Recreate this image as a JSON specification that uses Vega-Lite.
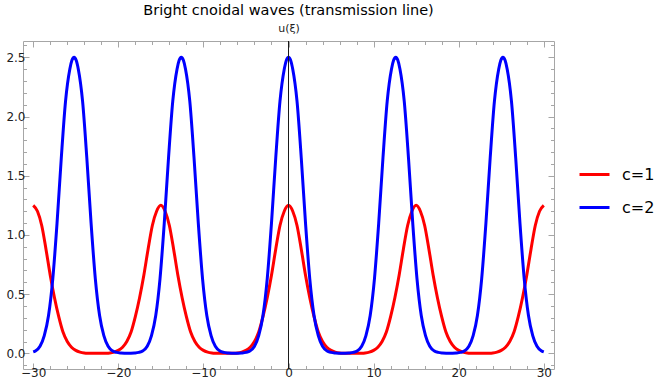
{
  "$schema": "https://vega.github.io/schema/vega-lite/v6.json",
  "width": 531,
  "height": 328,
  "autosize": {"type": "none"},
  "padding": {"left": 23, "top": 41, "right": 100, "bottom": 18},
  "config": {"view": {"stroke": "#a6a6a6", "strokeWidth": 1}, "font": "DejaVu Sans"},
  "title": {"text": "Bright cnoidal waves (transmission line)", "font": "DejaVu Sans", "fontSize": 14.5, "fontWeight": "normal", "color": "#000000", "anchor": "middle", "offset": 4},
  "data": {"values": [
    {"c":"c=1","x":-30,"u":1.25},{"c":"c=1","x":-29.5,"u":1.2},{"c":"c=1","x":-29,"u":1.08},{"c":"c=1","x":-28.5,"u":0.88},{"c":"c=1","x":-28,"u":0.66},{"c":"c=1","x":-27.5,"u":0.47},{"c":"c=1","x":-27,"u":0.31},{"c":"c=1","x":-26.5,"u":0.18},{"c":"c=1","x":-26,"u":0.1},{"c":"c=1","x":-25.5,"u":0.052},{"c":"c=1","x":-25,"u":0.025},{"c":"c=1","x":-24.5,"u":0.011},{"c":"c=1","x":-24,"u":0.004},{"c":"c=1","x":-23.5,"u":0.0015},{"c":"c=1","x":-23,"u":0.0005},{"c":"c=1","x":-22.5,"u":0.0002},{"c":"c=1","x":-22,"u":0.0005},{"c":"c=1","x":-21.5,"u":0.0015},{"c":"c=1","x":-21,"u":0.004},{"c":"c=1","x":-20.5,"u":0.011},{"c":"c=1","x":-20,"u":0.025},{"c":"c=1","x":-19.5,"u":0.052},{"c":"c=1","x":-19,"u":0.1},{"c":"c=1","x":-18.5,"u":0.18},{"c":"c=1","x":-18,"u":0.31},{"c":"c=1","x":-17.5,"u":0.47},{"c":"c=1","x":-17,"u":0.66},{"c":"c=1","x":-16.5,"u":0.88},{"c":"c=1","x":-16,"u":1.08},{"c":"c=1","x":-15.5,"u":1.2},
    {"c":"c=1","x":-15,"u":1.25},{"c":"c=1","x":-14.5,"u":1.2},{"c":"c=1","x":-14,"u":1.08},{"c":"c=1","x":-13.5,"u":0.88},{"c":"c=1","x":-13,"u":0.66},{"c":"c=1","x":-12.5,"u":0.47},{"c":"c=1","x":-12,"u":0.31},{"c":"c=1","x":-11.5,"u":0.18},{"c":"c=1","x":-11,"u":0.1},{"c":"c=1","x":-10.5,"u":0.052},{"c":"c=1","x":-10,"u":0.025},{"c":"c=1","x":-9.5,"u":0.011},{"c":"c=1","x":-9,"u":0.004},{"c":"c=1","x":-8.5,"u":0.0015},{"c":"c=1","x":-8,"u":0.0005},{"c":"c=1","x":-7.5,"u":0.0002},{"c":"c=1","x":-7,"u":0.0005},{"c":"c=1","x":-6.5,"u":0.0015},{"c":"c=1","x":-6,"u":0.004},{"c":"c=1","x":-5.5,"u":0.011},{"c":"c=1","x":-5,"u":0.025},{"c":"c=1","x":-4.5,"u":0.052},{"c":"c=1","x":-4,"u":0.1},{"c":"c=1","x":-3.5,"u":0.18},{"c":"c=1","x":-3,"u":0.31},{"c":"c=1","x":-2.5,"u":0.47},{"c":"c=1","x":-2,"u":0.66},{"c":"c=1","x":-1.5,"u":0.88},{"c":"c=1","x":-1,"u":1.08},{"c":"c=1","x":-0.5,"u":1.2},
    {"c":"c=1","x":0,"u":1.25},{"c":"c=1","x":0.5,"u":1.2},{"c":"c=1","x":1,"u":1.08},{"c":"c=1","x":1.5,"u":0.88},{"c":"c=1","x":2,"u":0.66},{"c":"c=1","x":2.5,"u":0.47},{"c":"c=1","x":3,"u":0.31},{"c":"c=1","x":3.5,"u":0.18},{"c":"c=1","x":4,"u":0.1},{"c":"c=1","x":4.5,"u":0.052},{"c":"c=1","x":5,"u":0.025},{"c":"c=1","x":5.5,"u":0.011},{"c":"c=1","x":6,"u":0.004},{"c":"c=1","x":6.5,"u":0.0015},{"c":"c=1","x":7,"u":0.0005},{"c":"c=1","x":7.5,"u":0.0002},{"c":"c=1","x":8,"u":0.0005},{"c":"c=1","x":8.5,"u":0.0015},{"c":"c=1","x":9,"u":0.004},{"c":"c=1","x":9.5,"u":0.011},{"c":"c=1","x":10,"u":0.025},{"c":"c=1","x":10.5,"u":0.052},{"c":"c=1","x":11,"u":0.1},{"c":"c=1","x":11.5,"u":0.18},{"c":"c=1","x":12,"u":0.31},{"c":"c=1","x":12.5,"u":0.47},{"c":"c=1","x":13,"u":0.66},{"c":"c=1","x":13.5,"u":0.88},{"c":"c=1","x":14,"u":1.08},{"c":"c=1","x":14.5,"u":1.2},
    {"c":"c=1","x":15,"u":1.25},{"c":"c=1","x":15.5,"u":1.2},{"c":"c=1","x":16,"u":1.08},{"c":"c=1","x":16.5,"u":0.88},{"c":"c=1","x":17,"u":0.66},{"c":"c=1","x":17.5,"u":0.47},{"c":"c=1","x":18,"u":0.31},{"c":"c=1","x":18.5,"u":0.18},{"c":"c=1","x":19,"u":0.1},{"c":"c=1","x":19.5,"u":0.052},{"c":"c=1","x":20,"u":0.025},{"c":"c=1","x":20.5,"u":0.011},{"c":"c=1","x":21,"u":0.004},{"c":"c=1","x":21.5,"u":0.0015},{"c":"c=1","x":22,"u":0.0005},{"c":"c=1","x":22.5,"u":0.0002},{"c":"c=1","x":23,"u":0.0005},{"c":"c=1","x":23.5,"u":0.0015},{"c":"c=1","x":24,"u":0.004},{"c":"c=1","x":24.5,"u":0.011},{"c":"c=1","x":25,"u":0.025},{"c":"c=1","x":25.5,"u":0.052},{"c":"c=1","x":26,"u":0.1},{"c":"c=1","x":26.5,"u":0.18},{"c":"c=1","x":27,"u":0.31},{"c":"c=1","x":27.5,"u":0.47},{"c":"c=1","x":28,"u":0.66},{"c":"c=1","x":28.5,"u":0.88},{"c":"c=1","x":29,"u":1.08},{"c":"c=1","x":29.5,"u":1.2},{"c":"c=1","x":30,"u":1.25},
    {"c":"c=2","x":-30,"u":0.012},{"c":"c=2","x":-29.7,"u":0.022},{"c":"c=2","x":-29.2,"u":0.06},{"c":"c=2","x":-28.7,"u":0.15},{"c":"c=2","x":-28.2,"u":0.32},{"c":"c=2","x":-27.7,"u":0.63},{"c":"c=2","x":-27.2,"u":1.1},{"c":"c=2","x":-26.7,"u":1.65},{"c":"c=2","x":-26.2,"u":2.13},{"c":"c=2","x":-25.7,"u":2.4},{"c":"c=2","x":-25.45,"u":2.475},{"c":"c=2","x":-25.2,"u":2.5},{"c":"c=2","x":-24.95,"u":2.475},{"c":"c=2","x":-24.7,"u":2.4},{"c":"c=2","x":-24.2,"u":2.13},{"c":"c=2","x":-23.7,"u":1.65},{"c":"c=2","x":-23.2,"u":1.1},{"c":"c=2","x":-22.7,"u":0.63},{"c":"c=2","x":-22.2,"u":0.32},{"c":"c=2","x":-21.7,"u":0.15},{"c":"c=2","x":-21.2,"u":0.06},{"c":"c=2","x":-20.7,"u":0.022},{"c":"c=2","x":-20.2,"u":0.008},{"c":"c=2","x":-19.7,"u":0.003},{"c":"c=2","x":-19.2,"u":0.001},{"c":"c=2","x":-18.9,"u":0.0003},{"c":"c=2","x":-18.6,"u":0.001},{"c":"c=2","x":-18.1,"u":0.003},{"c":"c=2","x":-17.6,"u":0.008},{"c":"c=2","x":-17.1,"u":0.022},{"c":"c=2","x":-16.6,"u":0.06},{"c":"c=2","x":-16.1,"u":0.15},{"c":"c=2","x":-15.6,"u":0.32},{"c":"c=2","x":-15.1,"u":0.63},{"c":"c=2","x":-14.6,"u":1.1},{"c":"c=2","x":-14.1,"u":1.65},{"c":"c=2","x":-13.6,"u":2.13},{"c":"c=2","x":-13.1,"u":2.4},{"c":"c=2","x":-12.85,"u":2.475},
    {"c":"c=2","x":-12.6,"u":2.5},{"c":"c=2","x":-12.35,"u":2.475},{"c":"c=2","x":-12.1,"u":2.4},{"c":"c=2","x":-11.6,"u":2.13},{"c":"c=2","x":-11.1,"u":1.65},{"c":"c=2","x":-10.6,"u":1.1},{"c":"c=2","x":-10.1,"u":0.63},{"c":"c=2","x":-9.6,"u":0.32},{"c":"c=2","x":-9.1,"u":0.15},{"c":"c=2","x":-8.6,"u":0.06},{"c":"c=2","x":-8.1,"u":0.022},{"c":"c=2","x":-7.6,"u":0.008},{"c":"c=2","x":-7.1,"u":0.003},{"c":"c=2","x":-6.6,"u":0.001},{"c":"c=2","x":-6.3,"u":0.0003},{"c":"c=2","x":-6,"u":0.001},{"c":"c=2","x":-5.5,"u":0.003},{"c":"c=2","x":-5,"u":0.008},{"c":"c=2","x":-4.5,"u":0.022},{"c":"c=2","x":-4,"u":0.06},{"c":"c=2","x":-3.5,"u":0.15},{"c":"c=2","x":-3,"u":0.32},{"c":"c=2","x":-2.5,"u":0.63},{"c":"c=2","x":-2,"u":1.1},{"c":"c=2","x":-1.5,"u":1.65},{"c":"c=2","x":-1,"u":2.13},{"c":"c=2","x":-0.5,"u":2.4},{"c":"c=2","x":-0.25,"u":2.475},
    {"c":"c=2","x":0,"u":2.5},{"c":"c=2","x":0.25,"u":2.475},{"c":"c=2","x":0.5,"u":2.4},{"c":"c=2","x":1,"u":2.13},{"c":"c=2","x":1.5,"u":1.65},{"c":"c=2","x":2,"u":1.1},{"c":"c=2","x":2.5,"u":0.63},{"c":"c=2","x":3,"u":0.32},{"c":"c=2","x":3.5,"u":0.15},{"c":"c=2","x":4,"u":0.06},{"c":"c=2","x":4.5,"u":0.022},{"c":"c=2","x":5,"u":0.008},{"c":"c=2","x":5.5,"u":0.003},{"c":"c=2","x":6,"u":0.001},{"c":"c=2","x":6.3,"u":0.0003},{"c":"c=2","x":6.6,"u":0.001},{"c":"c=2","x":7.1,"u":0.003},{"c":"c=2","x":7.6,"u":0.008},{"c":"c=2","x":8.1,"u":0.022},{"c":"c=2","x":8.6,"u":0.06},{"c":"c=2","x":9.1,"u":0.15},{"c":"c=2","x":9.6,"u":0.32},{"c":"c=2","x":10.1,"u":0.63},{"c":"c=2","x":10.6,"u":1.1},{"c":"c=2","x":11.1,"u":1.65},{"c":"c=2","x":11.6,"u":2.13},{"c":"c=2","x":12.1,"u":2.4},{"c":"c=2","x":12.35,"u":2.475},
    {"c":"c=2","x":12.6,"u":2.5},{"c":"c=2","x":12.85,"u":2.475},{"c":"c=2","x":13.1,"u":2.4},{"c":"c=2","x":13.6,"u":2.13},{"c":"c=2","x":14.1,"u":1.65},{"c":"c=2","x":14.6,"u":1.1},{"c":"c=2","x":15.1,"u":0.63},{"c":"c=2","x":15.6,"u":0.32},{"c":"c=2","x":16.1,"u":0.15},{"c":"c=2","x":16.6,"u":0.06},{"c":"c=2","x":17.1,"u":0.022},{"c":"c=2","x":17.6,"u":0.008},{"c":"c=2","x":18.1,"u":0.003},{"c":"c=2","x":18.6,"u":0.001},{"c":"c=2","x":18.9,"u":0.0003},{"c":"c=2","x":19.2,"u":0.001},{"c":"c=2","x":19.7,"u":0.003},{"c":"c=2","x":20.2,"u":0.008},{"c":"c=2","x":20.7,"u":0.022},{"c":"c=2","x":21.2,"u":0.06},{"c":"c=2","x":21.7,"u":0.15},{"c":"c=2","x":22.2,"u":0.32},{"c":"c=2","x":22.7,"u":0.63},{"c":"c=2","x":23.2,"u":1.1},{"c":"c=2","x":23.7,"u":1.65},{"c":"c=2","x":24.2,"u":2.13},{"c":"c=2","x":24.7,"u":2.4},{"c":"c=2","x":24.95,"u":2.475},
    {"c":"c=2","x":25.2,"u":2.5},{"c":"c=2","x":25.45,"u":2.475},{"c":"c=2","x":25.7,"u":2.4},{"c":"c=2","x":26.2,"u":2.13},{"c":"c=2","x":26.7,"u":1.65},{"c":"c=2","x":27.2,"u":1.1},{"c":"c=2","x":27.7,"u":0.63},{"c":"c=2","x":28.2,"u":0.32},{"c":"c=2","x":28.7,"u":0.15},{"c":"c=2","x":29.2,"u":0.06},{"c":"c=2","x":29.7,"u":0.022},{"c":"c=2","x":30,"u":0.012}
  ]},
  "layer": [
    {
      "mark": {"type": "line", "strokeWidth": 3, "interpolate": "monotone", "clip": true},
      "encoding": {
        "x": {"field": "x", "type": "quantitative",
          "scale": {"domain": [-31.2, 31.2], "nice": false, "zero": false},
          "axis": {"orient": "bottom", "title": null, "domain": false, "grid": false,
            "values": [-30,-28,-26,-24,-22,-20,-18,-16,-14,-12,-10,-8,-6,-4,-2,0,2,4,6,8,10,12,14,16,18,20,22,24,26,28,30],
            "labelExpr": "datum.value % 10 === 0 ? datum.label : ''",
            "tickSize": {"condition": {"test": "datum.value % 10 === 0", "value": -6}, "value": -3.5},
            "tickColor": "#a6a6a6", "labelColor": "#222222", "labelFontSize": 12, "labelFont": "DejaVu Sans", "labelPadding": 4, "labelFlush": false, "labelOverlap": false}},
        "y": {"field": "u", "type": "quantitative",
          "scale": {"domain": [-0.132, 2.638], "nice": false, "zero": false},
          "axis": {"orient": "left", "title": null, "domain": false, "grid": false,
            "values": [-0.1,0,0.1,0.2,0.3,0.4,0.5,0.6,0.7,0.8,0.9,1,1.1,1.2,1.3,1.4,1.5,1.6,1.7,1.8,1.9,2,2.1,2.2,2.3,2.4,2.5,2.6],
            "format": ".1f",
            "labelExpr": "round(datum.value*10) % 5 === 0 ? datum.label : ''",
            "tickSize": {"condition": {"test": "round(datum.value*10) % 5 === 0", "value": -6}, "value": -3.5},
            "tickColor": "#a6a6a6", "labelColor": "#222222", "labelFontSize": 12, "labelFont": "DejaVu Sans", "labelPadding": 4, "labelFlush": false, "labelOverlap": false}},
        "color": {"field": "c", "type": "nominal",
          "scale": {"domain": ["c=1", "c=2"], "range": ["#ff0000", "#0000ff"]},
          "legend": {"orient": "none", "legendX": 555, "legendY": 117, "title": null, "symbolType": "stroke", "symbolStrokeWidth": 3, "symbolSize": 900, "labelFontSize": 16, "labelFont": "DejaVu Sans", "labelColor": "#000000", "rowPadding": 8, "labelOffset": 11}}
      }
    },
    {
      "mark": {"type": "rule", "color": "#1a1a1a", "strokeWidth": 1, "clip": true},
      "encoding": {
        "x": {"datum": 0, "type": "quantitative",
          "axis": {"orient": "top", "title": "u(ξ)", "titleFont": "DejaVu Sans", "titleFontSize": 11, "titleFontWeight": "normal", "titleColor": "#222222", "titlePadding": 7, "domain": false, "grid": false, "labels": false,
            "values": [-30,-28,-26,-24,-22,-20,-18,-16,-14,-12,-10,-8,-6,-4,-2,0,2,4,6,8,10,12,14,16,18,20,22,24,26,28,30],
            "tickSize": {"condition": {"test": "datum.value % 10 === 0", "value": -6}, "value": -3.5},
            "tickColor": "#a6a6a6"}},
        "y": {"datum": -0.2, "type": "quantitative",
          "axis": {"orient": "right", "title": null, "domain": false, "grid": false, "labels": false,
            "values": [-0.1,0,0.1,0.2,0.3,0.4,0.5,0.6,0.7,0.8,0.9,1,1.1,1.2,1.3,1.4,1.5,1.6,1.7,1.8,1.9,2,2.1,2.2,2.3,2.4,2.5,2.6],
            "tickSize": {"condition": {"test": "round(datum.value*10) % 5 === 0", "value": -6}, "value": -3.5},
            "tickColor": "#a6a6a6"}},
        "y2": {"datum": 2.8}
      }
    }
  ],
  "resolve": {"axis": {"x": "independent", "y": "independent"}}
}
